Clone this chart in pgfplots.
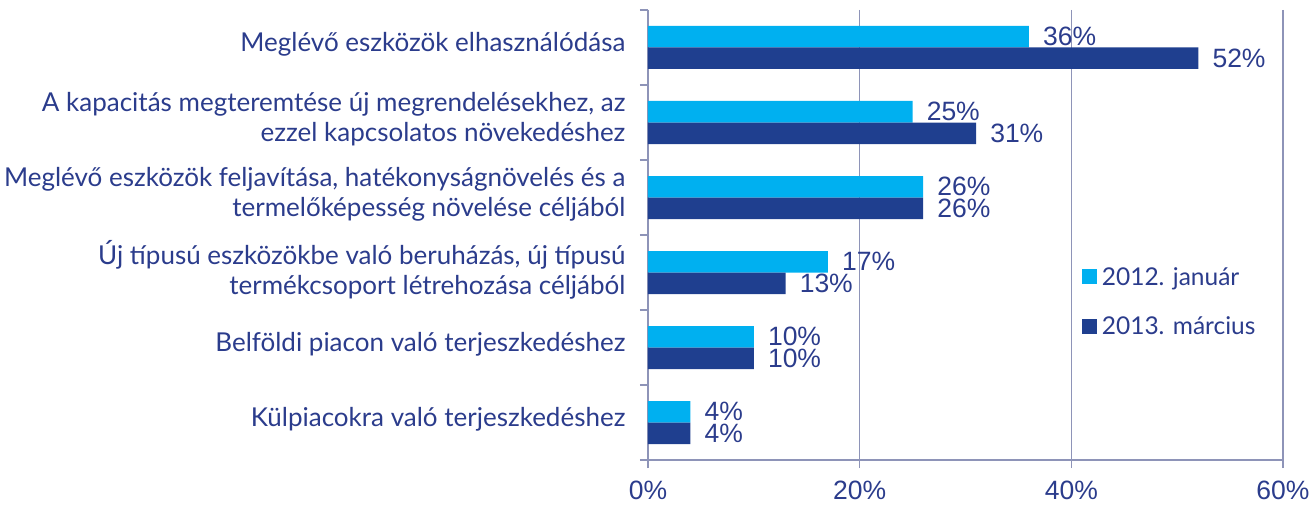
\documentclass[border=0pt]{standalone}
\usepackage{fontspec}
\setmainfont{Lato}
\newfontfamily\numfont{Liberation Sans}
\usepackage{pgfplots}
\pgfplotsset{compat=1.18}
\definecolor{lightb}{HTML}{00B0F0}
\definecolor{darkb}{HTML}{1F3F8F}
\definecolor{txt}{HTML}{2B3C8C}
\definecolor{gridc}{HTML}{8E94B8}
\begin{document}
\begin{tikzpicture}[x=1pt,y=1pt]
\useasboundingbox (-648,-45) rectangle (663,460);
\begin{axis}[
  at={(0,0)}, anchor=south west,
  width=635pt, height=450pt, scale only axis,
  /pgf/number format/assume math mode=true,
  xbar, bar width=21.5pt,
  xmin=0, xmax=60, ymin=-0.5, ymax=5.5, y dir=reverse,
  axis x line=bottom, axis y line=left,
  axis line style={-, draw=gridc, line width=1.3pt},
  xtick={0,20,40,60}, xticklabels={0\%,20\%,40\%,60\%},
  xmajorgrids, grid style={draw=gridc, line width=1.3pt},
  tick align=outside, major tick length=8pt,
  tick style={draw=gridc, line width=1.3pt},
  x tick label style={font=\numfont\fontsize{26.5}{30}\selectfont, text=txt, yshift=-9pt},
  ytick={-0.5,0.5,...,5.5},
  yticklabels={
    {Meglévő eszközök elhasználódása},
    {A kapacitás megteremtése új megrendelésekhez, az\\ezzel kapcsolatos növekedéshez},
    {Meglévő eszközök feljavítása, hatékonyságnövelés és a\\termelőképesség növelése céljából},
    {Új típusú eszközökbe való beruházás, új típusú\\termékcsoport létrehozása céljából},
    {Belföldi piacon való terjeszkedéshez},
    {Külpiacokra való terjeszkedéshez},{}},
  y tick label style={font=\fontsize{26}{30}\selectfont, text=txt, align=right, yshift=-34.5pt, xshift=-11pt},
  legend style={draw=none, fill=none, at={(0.683,0.352)}, anchor=west, inner sep=0pt,
    font=\fontsize{24.5}{28}\selectfont, text=txt, row sep=26pt,
    /tikz/every even column/.append style={column sep=0pt}},
  legend cell align=left,
  legend image code/.code={\fill[#1] (0pt,-7.5pt) rectangle (15pt,7.5pt);},
  legend style={nodes={inner xsep=5pt}},
  point meta=x,
  nodes near coords={\pgfmathprintnumber{\pgfplotspointmeta}\%},
  nodes near coords style={anchor=west, inner sep=0pt, xshift=14pt, font=\numfont\fontsize{26.5}{30}\selectfont, text=txt},
]
\addplot[fill=lightb, draw=none, bar shift=10.75pt] coordinates {(36,0) (25,1) (26,2) (17,3) (10,4) (4,5)};
\addplot[fill=darkb, draw=none, bar shift=-10.75pt] coordinates {(52,0) (31,1) (26,2) (13,3) (10,4) (4,5)};
\legend{2012. január, 2013. március}
\end{axis}
\end{tikzpicture}
\end{document}
